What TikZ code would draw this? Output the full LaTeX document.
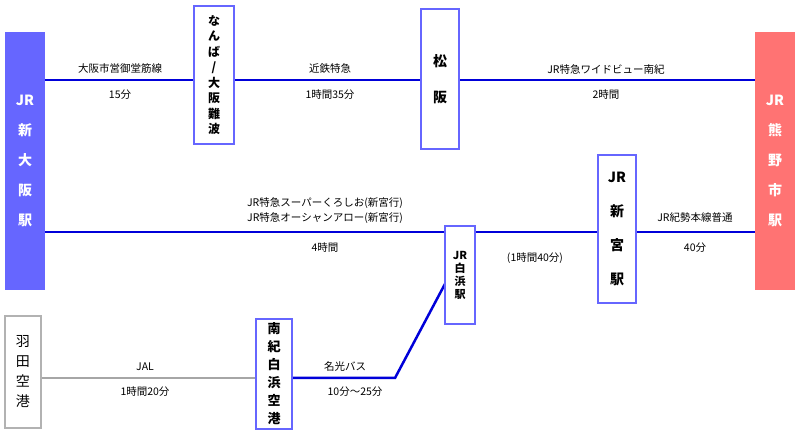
\documentclass[tikz,border=0pt]{standalone}
\usepackage{fontspec}
\setmainfont{Noto Sans CJK JP}
\begin{document}
\begin{tikzpicture}[x=1pt,y=-1pt,
  lbl/.style={font=\fontsize{10.5}{11}\selectfont,inner sep=0pt},
  vbox/.style={draw=blue!60!white,line width=2.5pt,fill=white,inner sep=0pt,font=\fontsize{14}{20}\selectfont\bfseries,align=center},
  bl/.style={blue!85!black,line width=2.5pt},
  gl/.style={gray!70,line width=2.5pt}]
\useasboundingbox (0,0) rectangle (796,435);
\fill[white] (0,0) rectangle (796,435);
\draw[bl] (45,80) -- (193,80);
\draw[bl] (235,80) -- (420,80);
\draw[bl] (460,80) -- (755,80);
\draw[bl] (45,232) -- (445,232);
\draw[bl] (475,232) -- (597,232);
\draw[bl] (637,232) -- (755,232);
\draw[gl] (42,378) -- (255,378);
\draw[bl] (293,378) -- (395,378) -- (446,282);
\node[fill=blue!55!cyan!80!black!90,fill=blue!60!white,minimum width=40pt,minimum height=258pt,inner sep=0pt,text=white,font=\fontsize{14}{30}\selectfont\bfseries,align=center] (osaka) at (25,161) {JR\\新\\大\\阪\\駅};
\node[fill=red!55!white,minimum width=40pt,minimum height=258pt,inner sep=0pt,text=white,font=\fontsize{14}{30}\selectfont\bfseries,align=center] (kumano) at (775,161) {JR\\熊\\野\\市\\駅};
\node[vbox,font=\fontsize{12}{15.5}\selectfont\bfseries,minimum width=40pt,minimum height=138pt] (namba) at (214,75) {な\\ん\\ば\\/\\大\\阪\\難\\波};
\node[vbox,font=\fontsize{14}{36}\selectfont\bfseries,minimum width=38pt,minimum height=140pt] (matsu) at (440,79) {松\\阪};
\node[vbox,font=\fontsize{14}{34}\selectfont\bfseries,minimum width=38pt,minimum height=148pt] (shingu) at (617,229) {JR\\新\\宮\\駅};
\node[vbox,font=\fontsize{11}{13}\selectfont\bfseries,minimum width=30pt,minimum height=98pt] (shira) at (460,275) {JR\\白\\浜\\駅};
\node[vbox,draw=gray!60,minimum width=36pt,minimum height=112pt,font=\fontsize{14}{20}\selectfont] (haneda) at (23,372) {羽\\田\\空\\港};
\node[vbox,minimum width=36pt,minimum height=110pt,font=\fontsize{13}{18}\selectfont\bfseries] (nanki) at (274,374) {南\\紀\\白\\浜\\空\\港};
\node[lbl] (l1) at (120,69) {大阪市営御堂筋線};
\node[lbl] (l2) at (120,95) {15分};
\node[lbl] (l3) at (330,69) {近鉄特急};
\node[lbl] (l4) at (330,95) {1時間35分};
\node[lbl] (l5) at (606,69) {JR特急ワイドビュー南紀};
\node[lbl] (l6) at (606,95) {2時間};
\node[lbl] (l7) at (325,203) {JR特急スーパーくろしお(新宮行)};
\node[lbl] (l8) at (325,218) {JR特急オーシャンアロー(新宮行)};
\node[lbl] (l9) at (325,248) {4時間};
\node[lbl] (l10) at (535,258) {(1時間40分)};
\node[lbl] (l11) at (695,218) {JR紀勢本線普通};
\node[lbl] (l12) at (695,248) {40分};
\node[lbl] (l13) at (145,367) {JAL};
\node[lbl] (l14) at (145,392) {1時間20分};
\node[lbl] (l15) at (345,367) {名光バス};
\node[lbl] (l16) at (355,392) {10分～25分};
\end{tikzpicture}
\end{document}
